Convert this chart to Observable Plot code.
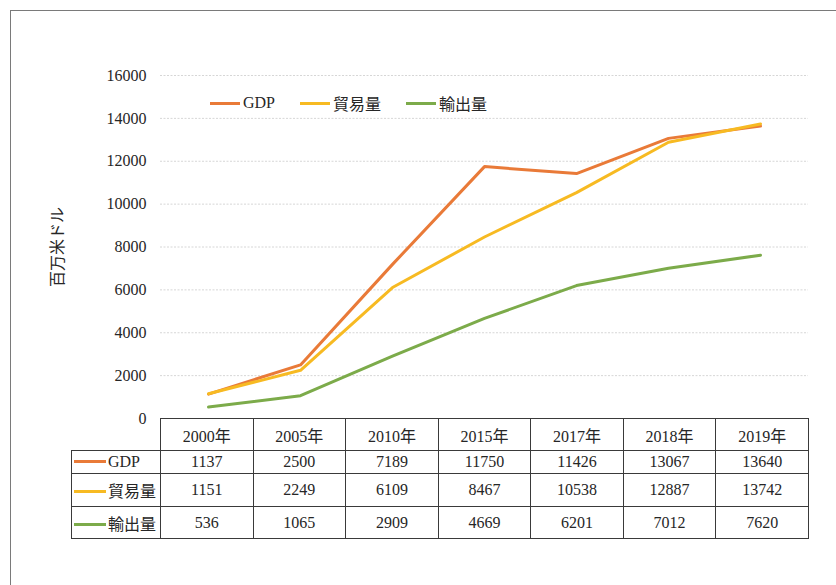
<!DOCTYPE html>
<html>
<head>
<meta charset="utf-8">
<script src="https://cdn.jsdelivr.net/npm/d3@7"></script>
<script src="https://cdn.jsdelivr.net/npm/@observablehq/plot@0.6"></script>
<style>
  html, body { margin: 0; padding: 0; background: #fff; }
  #wrap { position: relative; width: 836px; height: 585px; overflow: hidden; background: #fff;
          font-family: "Liberation Serif", "Times New Roman", "Noto Sans CJK JP", serif; color: #262626; }
  #wrap svg text { font-family: "Liberation Serif", "Times New Roman", "Noto Sans CJK JP", serif !important; }
  #frame { position: absolute; left: 10px; top: 10px; width: 900px; height: 700px;
           border: 1.5px solid #7a7a7a; box-sizing: border-box; }
  #chart { position: absolute; left: 0; top: 0; }
  .legend { position: absolute; top: 92px; height: 22px; display: flex; align-items: center; font-size: 16px; }
  .legend .key { width: 30px; height: 3px; margin-right: 3px; }
  table { position: absolute; left: 71px; top: 418px; width: 737px; table-layout: fixed;
          border-collapse: collapse; font-size: 16px; }
  td { border: 1px solid #3a3a3a; text-align: center; padding: 0; overflow: hidden; white-space: nowrap; }
  td.lab { text-align: left; }
  td.blank { border: none; border-right: 1px solid #3a3a3a; border-bottom: 1px solid #3a3a3a; }
  .lab span.key { display: inline-block; width: 32px; height: 3px; vertical-align: middle; margin: 0 2px 3px 2px; }
</style>
</head>
<body>
<div id="wrap">
  <div id="frame"></div>
</div>
<script>
const years = ["2000年", "2005年", "2010年", "2015年", "2017年", "2018年", "2019年"];
const seriesNames = ["GDP", "貿易量", "輸出量"];
const gdp = [1137, 2500, 7189, 11750, 11426, 13067, 13640];
const trade = [1151, 2249, 6109, 8467, 10538, 12887, 13742];
const exportsVol = [536, 1065, 2909, 4669, 6201, 7012, 7620];
const colors = ["#E97A38", "#F7BA22", "#7CAB4A"];
const yTicks = [0, 2000, 4000, 6000, 8000, 10000, 12000, 14000, 16000];
const yTitle = "百万米ドル";

const seriesValues = [gdp, trade, exportsVol];
const rows = [];
seriesNames.forEach((s, i) => years.forEach((y, j) => rows.push({series: s, year: y, value: seriesValues[i][j]})));

const chart = Plot.plot({
  width: 836,
  height: 585,
  marginLeft: 160,
  marginRight: 28,
  marginTop: 75,
  marginBottom: 167,
  style: {fontSize: "16px", color: "#262626", background: "transparent"},
  x: {type: "point", domain: years, padding: 0.5, axis: null},
  y: {domain: [0, 16000], axis: null},
  color: {domain: seriesNames, range: colors},
  marks: [
    Plot.gridY(yTicks.filter(d => d > 0), {stroke: "#d6d6d6", strokeOpacity: 1, strokeDasharray: "2,1.5"}),
    Plot.axisY({ticks: yTicks, tickFormat: d => String(d), tickSize: 0, tickPadding: 14, label: null, fontSize: 16}),
    Plot.text([yTitle], {frameAnchor: "left", textAnchor: "middle", rotate: -90, dx: -103, fontSize: 16}),
    Plot.line(rows, {x: "year", y: "value", z: "series", stroke: "series", strokeWidth: 3, strokeLinejoin: "round"})
  ]
});
chart.id = "chart";
const wrap = document.getElementById("wrap");
wrap.appendChild(chart);

// legend
const legendX = [210, 300, 406];
seriesNames.forEach((s, i) => {
  const d = document.createElement("div");
  d.className = "legend";
  d.style.left = legendX[i] + "px";
  d.innerHTML = `<div class="key" style="background:${colors[i]}"></div><span>${s}</span>`;
  wrap.appendChild(d);
});

// data table
const table = document.createElement("table");
const rowHeights = [32, 23, 33, 32];
let html = `<colgroup><col style="width:89px">` + years.map(() => `<col style="width:92.57px">`).join("") + `</colgroup>`;
html += `<tr style="height:${rowHeights[0]}px"><td class="lab blank"></td>` + years.map(y => `<td>${y}</td>`).join("") + "</tr>";
seriesNames.forEach((s, i) => {
  html += `<tr style="height:${rowHeights[i + 1]}px"><td class="lab"><span class="key" style="background:${colors[i]}"></span>${s}</td>` +
    seriesValues[i].map(v => `<td>${v}</td>`).join("") + "</tr>";
});
table.innerHTML = html;
wrap.appendChild(table);
</script>
</body>
</html>
